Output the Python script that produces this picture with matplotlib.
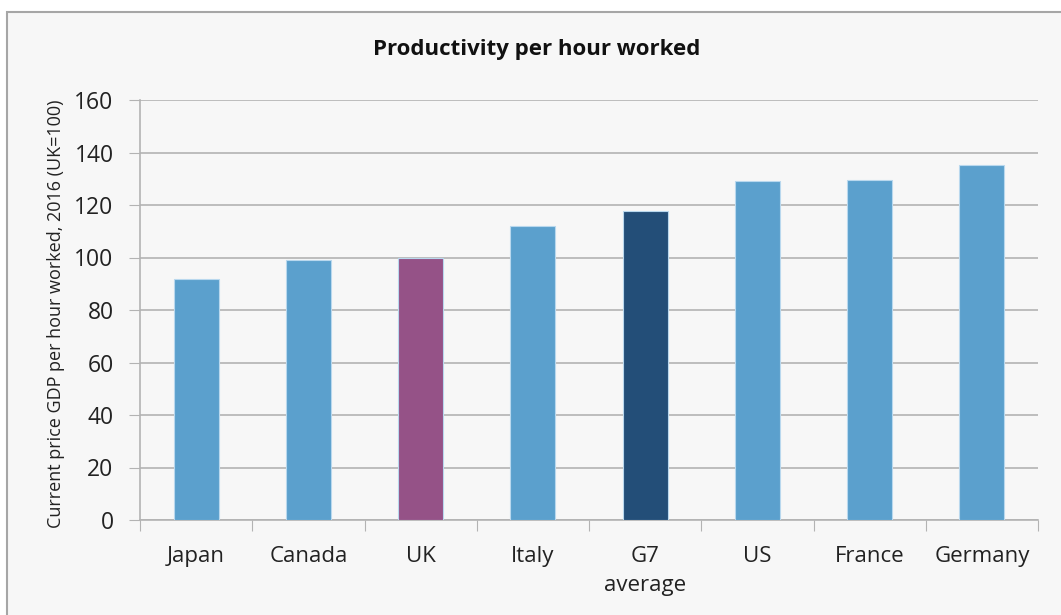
import matplotlib

matplotlib.use("Agg")
import matplotlib.pyplot as plt
from matplotlib.patches import Rectangle

countries = ["Japan", "Canada", "UK", "Italy", "G7\naverage", "US", "France", "Germany"]
productivity = [92, 99.2, 100, 112, 117.8, 129, 129.4, 135.3]
bar_colours = ["#5ba0cd", "#5ba0cd", "#955287", "#5ba0cd", "#234e78",
               "#5ba0cd", "#5ba0cd", "#5ba0cd"]
yticks = [0, 20, 40, 60, 80, 100, 120, 140, 160]

plt.rcParams["font.family"] = ["Open Sans", "DejaVu Sans"]

fig = plt.figure(figsize=(10.61, 6.15), dpi=100, facecolor="white")
# chart area panel with grey border
fig.patches.append(Rectangle((7 / 1061, -0.02), 1.02, 1 - 12 / 615 + 0.02,
                             transform=fig.transFigure, facecolor="#f7f7f7",
                             edgecolor="#a6a6a6", lw=1.5, zorder=-1))

ax = fig.add_axes([140 / 1061, 1 - 520 / 615, (1038 - 140) / 1061, 420 / 615])
ax.set_facecolor("#f7f7f7")

x = range(len(countries))
ax.bar(x, productivity, width=0.4, color=bar_colours, edgecolor="#b9d8ee",
       linewidth=0.8, zorder=3)

ax.set_xlim(-0.5, len(countries) - 0.5)
ax.set_ylim(0, 160)
ax.set_yticks(yticks)
ax.yaxis.grid(True, color="#b3b3b3", lw=1.2, zorder=0)
ax.tick_params(axis="y", length=8, color="#b3b3b3", labelsize=16.5,
               labelcolor="#222222", pad=11)

# category boundary ticks, labels centred under the bars
ax.set_xticks([i + 0.5 for i in range(-1, len(countries))], minor=False)
ax.set_xticklabels([])
ax.tick_params(axis="x", which="major", length=8, color="#b3b3b3")
ax.set_xticks(list(x), minor=True)
ax.set_xticklabels(countries, minor=True, fontsize=16, color="#222222",
                   linespacing=1.5, va="top")
ax.tick_params(axis="x", which="minor", length=0, pad=19)

for side in ("top", "right"):
    ax.spines[side].set_visible(False)
for side in ("left", "bottom"):
    ax.spines[side].set_color("#b3b3b3")
    ax.spines[side].set_linewidth(1.2)

ax.set_ylabel("Current price GDP per hour worked, 2016 (UK=100)", fontsize=13,
              color="#222222")
ax.yaxis.set_label_coords(-0.083, 0.49)
fig.text(537 / 1061, 1 - 50 / 615, "Productivity per hour worked",
         ha="center", va="center", fontsize=16, fontweight="bold", color="#111111")

fig.savefig("out.png", dpi=100, facecolor="white")
